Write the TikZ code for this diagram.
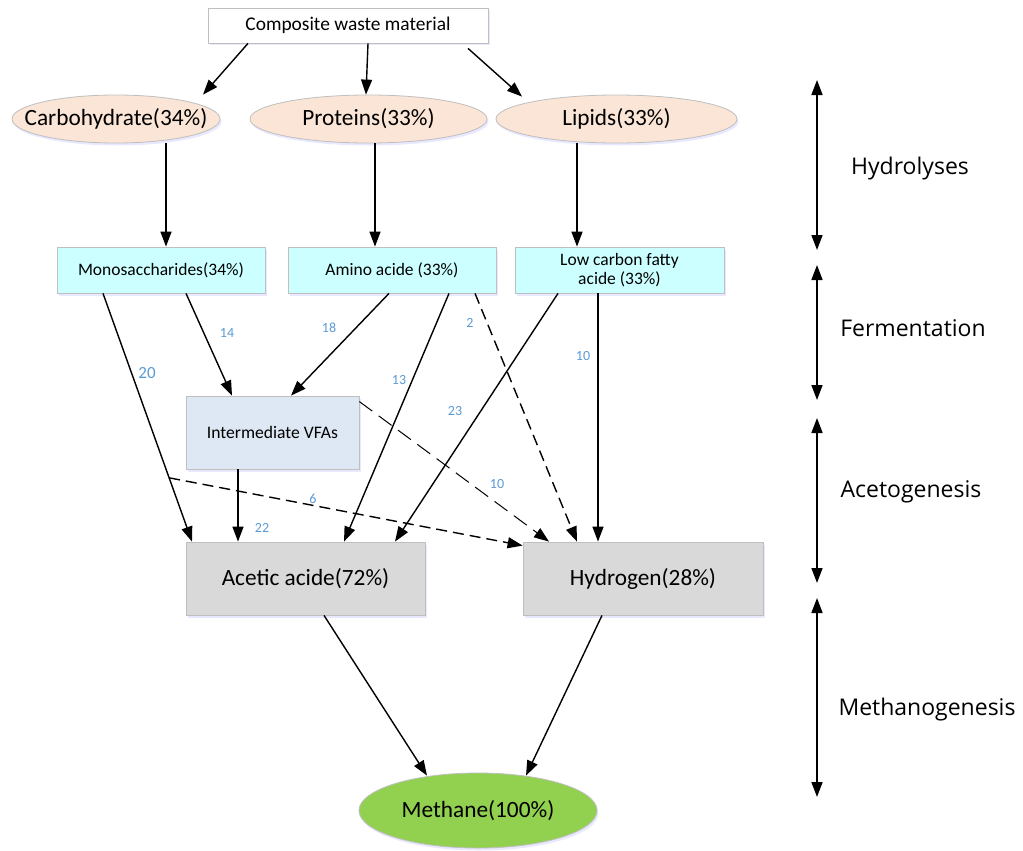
\documentclass[tikz,border=0pt]{standalone}
\usepackage{fontspec}
\setmainfont{Carlito}
\newfontfamily\stagefont{Open Sans}
\usetikzlibrary{arrows.meta,shapes.geometric,shadows}
\definecolor{peach}{HTML}{FBE5D6}
\definecolor{lcyan}{HTML}{CCFFFF}
\definecolor{vfablue}{HTML}{DEE8F4}
\definecolor{pgray}{HTML}{D9D9D9}
\definecolor{mgreen}{HTML}{92D050}
\definecolor{lblblue}{HTML}{5B9BD5}
\definecolor{bordergray}{HTML}{BFBFBF}
\newcommand\zerow[1]{\makebox[0pt]{#1}}
\tikzset{
  shd/.style={drop shadow={shadow xshift=1.5pt,shadow yshift=-2.5pt,fill=blue!25,opacity=0.35}},
  basebox/.style={draw=bordergray,line width=0.8pt,inner sep=2pt,align=center,shd},
  wbox/.style={basebox,rectangle,fill=white,font=\fontsize{19.4}{21}\selectfont},
  oval/.style={basebox,ellipse,fill=peach,inner sep=0pt,minimum height=48,font=\fontsize{23.3}{25}\selectfont},
  cbox/.style={basebox,rectangle,fill=lcyan,minimum width=208,minimum height=46,font=\fontsize{17.5}{19}\selectfont},
  vbox/.style={basebox,rectangle,fill=vfablue,minimum width=173,minimum height=73,font=\fontsize{17.6}{19}\selectfont},
  gbox/.style={basebox,rectangle,fill=pgray,minimum width=240,minimum height=73,font=\fontsize{23.3}{25}\selectfont},
  moval/.style={basebox,ellipse,fill=mgreen,inner sep=0pt,minimum width=238,minimum height=75,font=\fontsize{23.3}{25}\selectfont},
  arr/.style={line width=1.4pt,-{Triangle[length=15pt,width=11pt]}},
  darr/.style={arr,dash pattern=on 11pt off 6pt},
  ldarr/.style={line width=1pt,dash pattern=on 16pt off 8pt,-{Triangle[length=15pt,width=11pt]}},
  dblarr/.style={line width=1.6pt,{Triangle[length=15pt,width=11pt]}-{Triangle[length=15pt,width=11pt]}},
  num/.style={text=lblblue,font=\fontsize{14}{15}\selectfont,inner sep=0pt},
  stage/.style={font=\stagefont\fontsize{23}{25}\selectfont,inner sep=0pt}
}
\begin{document}
\begin{tikzpicture}[x=1pt,y=-1pt]
\useasboundingbox[fill=white] (0,0) rectangle (1023,851);

% nodes
\node[wbox,minimum width=280,minimum height=35] (comp) at (348,25.5) {Composite waste material};
\node[oval,minimum width=208] (carb) at (116,119) {\zerow{Carbohydrate(34\%)}};
\node[oval,minimum width=237] (prot) at (368.5,119) {\zerow{Proteins(33\%)}};
\node[oval,minimum width=241] (lip) at (616.5,119) {\zerow{Lipids(33\%)}};
\node[cbox] (mono) at (161,270) {Monosaccharides(34\%)};
\node[cbox] (amino) at (392,270) {Amino acide (33\%)};
\node[cbox,minimum width=209] (low) at (619.5,270) {Low carbon fatty\\acide (33\%)};
\node[vbox] (vfa) at (272.5,432.5) {Intermediate VFAs};
\node[gbox,minimum width=239] (acetic) at (305.5,578.5) {Acetic acide(72\%)};
\node[gbox] (hyd) at (643,578.5) {Hydrogen(28\%)};
\node[moval] (meth) at (478,810.5) {\zerow{Methane(100\%)}};

% top arrows
\draw[arr] ([xshift=-100pt]comp.south) -- ([xshift=87pt]carb.north);
\draw[arr] ([xshift=20pt]comp.south) -- ([xshift=-2.5pt]prot.north);
\draw[arr] ([xshift=120pt,yshift=-5pt]comp.south) -- ([xshift=-94.5pt,yshift=-2pt]lip.north);

\draw[arr] ([xshift=50pt]carb.south) -- ([xshift=5pt]mono.north);
\draw[arr] ([xshift=6.5pt]prot.south) -- ([xshift=-17pt]amino.north);
\draw[arr] ([xshift=-39.5pt]lip.south) -- ([xshift=-42.5pt]low.north);

% middle arrows
\draw[arr] ([xshift=-58pt]mono.south) -- coordinate[pos=0.743] (branch) ([xshift=-113.5pt]acetic.north);
\draw[arr] ([xshift=25pt]mono.south) -- ([xshift=-40.5pt]vfa.north);
\draw[arr] ([xshift=-3pt]amino.south) -- ([xshift=18.5pt]vfa.north);
\draw[arr] ([xshift=57pt]amino.south) -- ([xshift=38.5pt]acetic.north);
\draw[darr] ([xshift=83pt]amino.south) -- ([xshift=-66pt]hyd.north);
\draw[arr] ([xshift=-61.5pt]low.south) -- ([xshift=89.5pt]acetic.north);
\draw[arr] ([xshift=-21.5pt]low.south) -- ([xshift=-45pt]hyd.north);
\draw[arr] ([xshift=-34.5pt]vfa.south) -- ([xshift=-34.5pt]acetic.north -| vfa.south);
\draw[ldarr] ([yshift=-6pt]vfa.north east) -- ([xshift=-94pt]hyd.north);
\draw[darr] (branch) -- ([yshift=-4pt]hyd.north west);

% bottom arrows
\draw[arr] ([xshift=18.5pt]acetic.south) -- ([xshift=-51pt,yshift=-3pt]meth.north);
\draw[arr] ([xshift=-41pt]hyd.south) -- ([xshift=48pt,yshift=-3pt]meth.north);

% numbers
\node[num,font=\fontsize{17}{18}\selectfont] (n20) at (147,373) {20};
\node[num] (n14) at (227,333) {14};
\node[num] (n18) at (329,328) {18};
\node[num] (n13) at (399,380) {13};
\node[num] (n2) at (470,323) {2};
\node[num] (n10a) at (583,356) {10};
\node[num] (n23) at (455,411) {23};
\node[num] (n10b) at (497,484) {10};
\node[num] (n6) at (313,499) {6};
\node[num] (n22) at (262,528) {22};

% stage arrows
\coordinate (h1) at (817,80);  \coordinate (h2) at (817,250);
\coordinate (f1) at (817,265); \coordinate (f2) at (817,400);
\coordinate (a1) at (817,418); \coordinate (a2) at (817,583);
\coordinate (m1) at (817,598); \coordinate (m2) at (817,797);
\draw[dblarr] (h1) -- (h2);
\draw[dblarr] (f1) -- (f2);
\draw[dblarr] (a1) -- (a2);
\draw[dblarr] (m1) -- (m2);
\node[stage] (sh) at (910,169) {Hydrolyses};
\node[stage] (sf) at (913,328) {Fermentation};
\node[stage] (sa) at (911,492) {Acetogenesis};
\node[stage] (sm) at (927,710) {Methanogenesis};
\end{tikzpicture}
\end{document}
